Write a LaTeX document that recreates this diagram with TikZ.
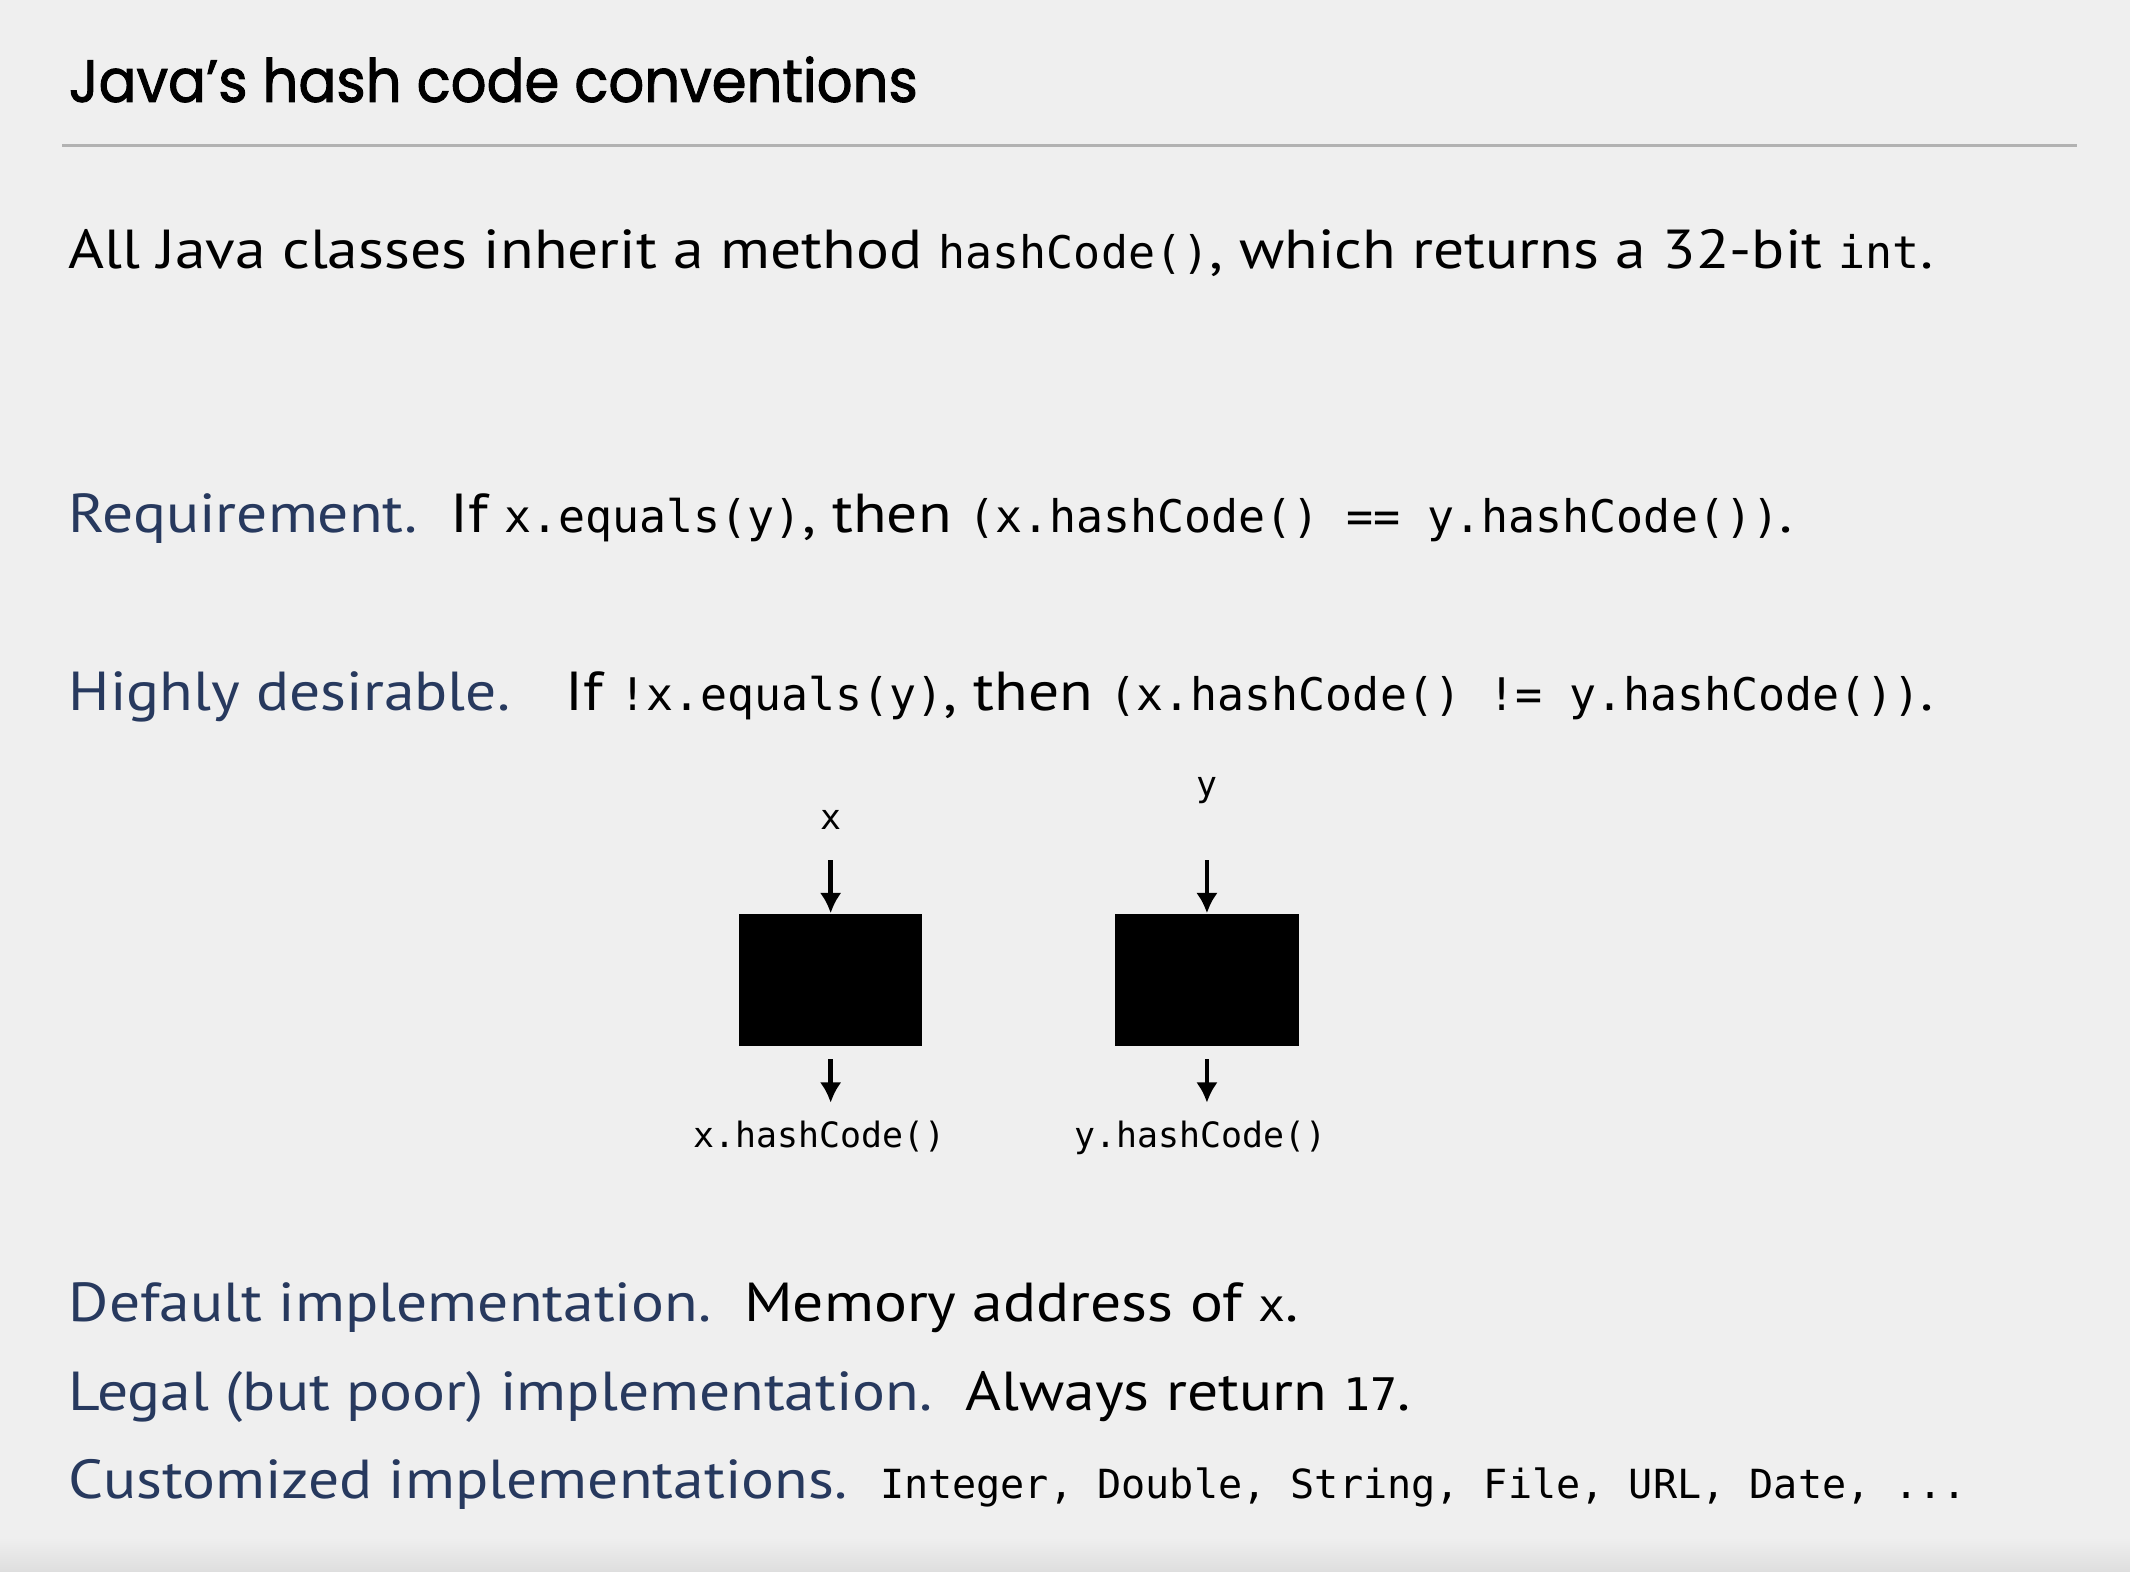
\documentclass[tikz,border=0pt]{standalone}
\usepackage{fontspec}
\setmainfont[FakeStretch=1.12]{PT Sans}
\setmonofont{DejaVu Sans Mono}
\newfontfamily\titlefont[FakeStretch=0.94, FakeBold=1.6]{Poppins}
\usetikzlibrary{arrows.meta, positioning}

\definecolor{slidebg}{HTML}{EFEFEF}
\definecolor{termblue}{HTML}{27395E}
\definecolor{rulegray}{HTML}{B2B2B2}

\newcommand{\jcode}[1]{{\ttfamily\fontsize{9.4}{11}\selectfont #1}}
\newcommand{\term}[1]{\textcolor{termblue}{#1}}

\begin{document}
\begin{tikzpicture}[
  x=0.01cm, y=-0.01cm,
  >=Latex,
  txt/.style={anchor=base west, inner sep=0pt, font=\fontsize{11.5}{13}\selectfont},
  hashbox/.style={fill=black, minimum width=1.35cm, minimum height=0.97cm, inner sep=0pt},
  lbl/.style={inner sep=0pt, font=\ttfamily\fontsize{7.3}{9}\selectfont},
  arrow/.style={-{Latex[length=1.5mm, width=1.6mm]}, line width=1pt}
]

% Slide background
\fill[slidebg] (0,0) rectangle (1568,1157);
\shade[top color=slidebg, bottom color=black!13] (0,1132) rectangle (1568,1157);
\useasboundingbox (0,0) rectangle (1568,1157);

% Title and rule
\node[anchor=base west, inner sep=0pt, font=\titlefont\fontsize{12.5}{15}\selectfont] (title) at (50,75) {Java’s hash code conventions};
\draw[rulegray, line width=0.6pt] (46,107) -- (1529,107);

% Text lines
\node[txt] (intro) at (50,198) {All Java classes inherit a method \jcode{hashCode()}, which returns a 32-bit \jcode{int}.};
\node[txt] (req) at (50,392) {\term{Requirement.}\ \ If \jcode{x.equals(y)}, then \jcode{(x.hashCode() == y.hashCode())}.};
\node[txt] (want) at (50,523) {\term{Highly desirable.}\quad If \jcode{!x.equals(y)}, then \jcode{(x.hashCode() != y.hashCode())}.};

% Hash functions
\node[hashbox] (fx) at (611.5,721.5) {};
\node[hashbox] (fy) at (888.5,721.5) {};
\node[lbl, above=0.61cm of fx] (x) {x};
\node[lbl, above=0.80cm of fy] (y) {y};
\coordinate[above=0.39cm of fx] (xin);
\coordinate[above=0.39cm of fy] (yin);
\coordinate[below=0.09cm of fx] (xout);
\coordinate[below=0.09cm of fy] (yout);
\node[lbl, below=0.45cm of xout, xshift=-0.08cm] (xhash) {x.hashCode()};
\node[lbl, below=0.45cm of yout, xshift=-0.045cm] (yhash) {y.hashCode()};

\draw[arrow] (xin) -- (fx);
\draw[arrow] (yin) -- (fy);
\draw[arrow] (xout) -- ([yshift=0.13cm]xout |- xhash.north);
\draw[arrow] (yout) -- ([yshift=0.13cm]yout |- yhash.north);

% Implementations
\node[txt] (dflt) at (50,973) {\term{Default implementation.}\ \ Memory address of \jcode{x}.};
\node[txt] (legal) at (50,1038) {\term{Legal (but poor) implementation.}\ \ Always return \jcode{17}.};
\node[txt] (custom) at (50,1103) {\term{Customized implementations.}\ \ {\ttfamily\fontsize{8.4}{10}\selectfont Integer, Double, String, File, URL, Date, ...}};

\end{tikzpicture}
\end{document}
